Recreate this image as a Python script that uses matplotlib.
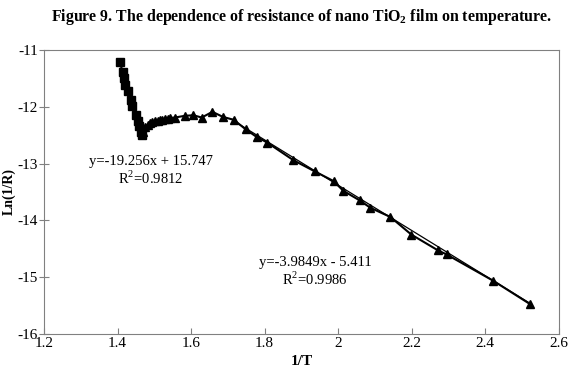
import matplotlib
matplotlib.use('Agg')
import matplotlib.pyplot as plt
import numpy as np

plt.rcParams['font.family'] = 'Liberation Serif'
plt.rcParams['axes.unicode_minus'] = False
plt.rcParams['mathtext.fontset'] = 'custom'
plt.rcParams['mathtext.rm'] = 'Liberation Serif'
plt.rcParams['mathtext.bf'] = 'Liberation Serif:bold'

# squares: steep low-temperature part
x_sq = [1.406, 1.414, 1.417, 1.419, 1.428, 1.436, 1.440, 1.451, 1.456, 1.459, 1.463, 1.466]
y_sq = [-11.22, -11.38, -11.50, -11.62, -11.72, -11.88, -11.99, -12.14, -12.25, -12.34, -12.44, -12.50]

# triangles: hump and linear part
x_tr = [1.468, 1.475, 1.482, 1.488, 1.495, 1.502, 1.509, 1.515, 1.522, 1.529, 1.536,
        1.542, 1.556, 1.583, 1.606, 1.629, 1.658, 1.687, 1.716, 1.749, 1.778, 1.807,
        1.878, 1.937, 1.988, 2.014, 2.059, 2.088, 2.142, 2.199, 2.272, 2.295, 2.421, 2.521]
y_tr = [-12.45, -12.36, -12.32, -12.29, -12.27, -12.26, -12.25, -12.24, -12.23, -12.22, -12.21,
        -12.20, -12.19, -12.16, -12.15, -12.19, -12.09, -12.18, -12.23, -12.40, -12.53, -12.63,
        -12.94, -13.14, -13.31, -13.48, -13.65, -13.78, -13.94, -14.25, -14.53, -14.60, -15.06, -15.47]

fit1 = (-19.256, 15.747)
fit1_range = (1.406, 1.466)
fit2 = (-3.9849, -5.411)
fit2_range = (1.72, 2.521)

fig = plt.figure(figsize=(5.79, 3.81), dpi=100)
ax = fig.add_axes([0.076, 0.1234, 0.889, 0.7456])

ax.plot(x_sq, y_sq, color='black', lw=1.5, marker='s', ms=6, mfc='black', mec='black')
ax.plot(x_tr, y_tr, color='black', lw=1.5, marker='^', ms=6, mfc='black', mec='black')

xf = np.array(fit1_range)
ax.plot(xf, fit1[0] * xf + fit1[1], color='black', lw=0.9)
xf = np.array(fit2_range)
ax.plot(xf, fit2[0] * xf + fit2[1], color='black', lw=0.9)

ax.text(1.49, -13.13, 'y=-19.256x + 15.747\nR$^{\\mathregular{2}}$=0.9812', ha='center', va='center',
        fontsize=10.5, linespacing=1.15)
ax.text(1.937, -14.91, 'y=-3.9849x - 5.411\nR$^{\\mathregular{2}}$=0.9986', ha='center', va='center',
        fontsize=10.5, linespacing=1.15)

ax.set_xlim(1.2, 2.6)
ax.set_ylim(-16, -11)
ax.set_xticks(np.arange(1.2, 2.61, 0.2))
ax.set_xticklabels(['1.2', '1.4', '1.6', '1.8', '2', '2.2', '2.4', '2.6'])
ax.set_yticks(range(-16, -10))
for s in ax.spines.values():
    s.set_color('#808080')
ax.tick_params(axis='x', direction='in', length=4, color='#808080', labelsize=11, pad=2)
ax.tick_params(axis='y', direction='inout', length=7, color='#808080', labelsize=11, pad=1)

ax.set_xlabel('1/T', fontsize=11, fontweight='bold', labelpad=4)
ax.set_ylabel('Ln(1/R)', fontsize=10, fontweight='bold', labelpad=1)

fig.text(0.52, 0.955, 'Figure 9. The dependence of resistance of nano TiO$_{\\mathbf{2}}$ film on temperature.',
         ha='center', va='center', fontsize=11.4, fontweight='bold')

fig.savefig('out.png', dpi=100)
